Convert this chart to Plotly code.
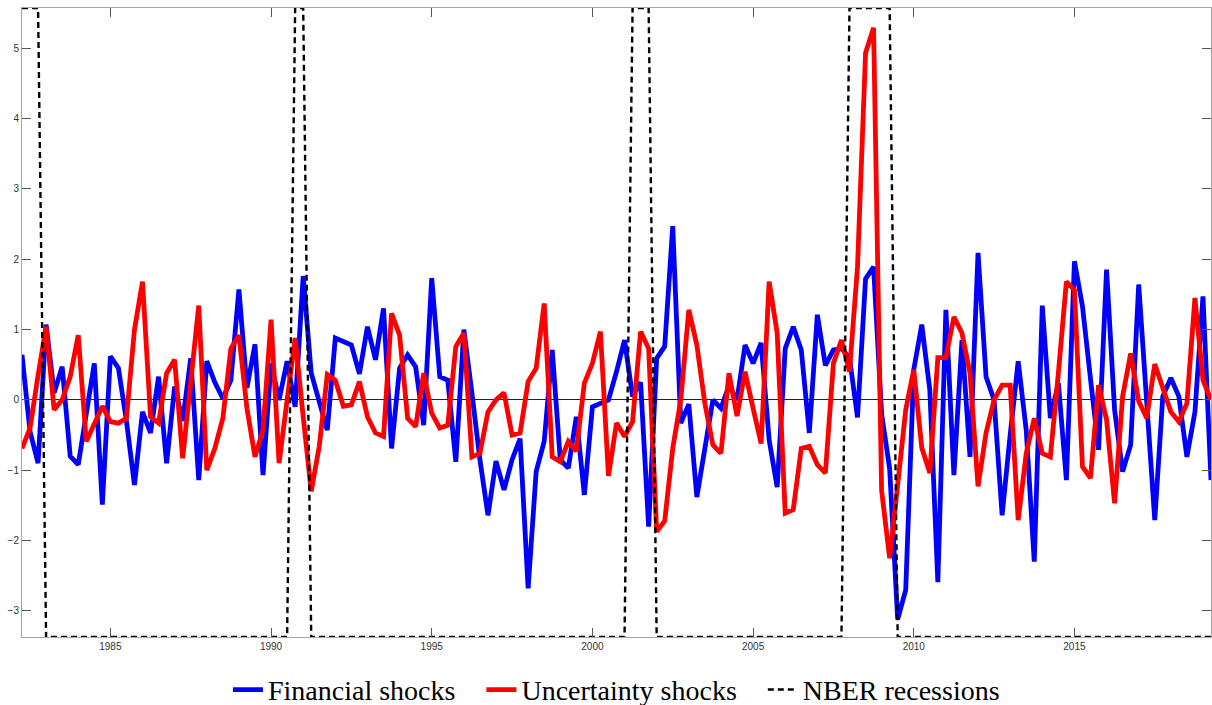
import plotly.graph_objects as go

# Quarterly sample: 1982Q2 .. 2019Q2 (decimal years, quarter start)
START_YEAR = 1982.25
N_QUARTERS = 149
quarters = [START_YEAR + 0.25 * i for i in range(N_QUARTERS)]

financial_shocks = [
    0.64, -0.45, -0.90, 1.07, 0.10, 0.47, -0.80, -0.92, -0.20, 0.52,
    -1.49, 0.62, 0.45, -0.30, -1.21, -0.17, -0.47, 0.33, -0.90, 0.19,
    -0.30, 0.59, -1.14, 0.55, 0.25, 0.02, 0.28, 1.57, 0.17, 0.79,
    -1.07, 0.52, 0.00, 0.55, -0.10, 1.76, 0.38, -0.02, -0.43, 0.88,
    0.83, 0.78, 0.37, 1.04, 0.57, 1.30, -0.69, 0.45, 0.64, 0.47,
    -0.36, 1.73, 0.33, 0.28, -0.88, 1.00, 0.10, -0.85, -1.64, -0.87,
    -1.28, -0.85, -0.55, -2.68, -1.02, -0.59, 0.71, -0.85, -0.97, -0.24,
    -1.35, -0.10, -0.05, 0.00, 0.40, 0.85, 0.05, 0.25, -1.80, 0.59,
    0.76, 2.47, -0.33, -0.06, -1.38, -0.66, 0.00, -0.12, 0.20, 0.00,
    0.78, 0.52, 0.81, -0.57, -1.24, 0.73, 1.04, 0.71, -0.47, 1.21,
    0.49, 0.71, 0.73, 0.60, -0.25, 1.72, 1.89, -0.20, -0.98, -3.12,
    -2.70, 0.43, 1.07, 0.14, -2.59, 1.28, -1.07, 0.85, -0.81, 2.09,
    0.33, 0.00, -1.64, -0.50, 0.55, -0.43, -2.30, 1.34, -0.26, 0.24,
    -1.14, 1.97, 1.33, 0.30, -0.71, 1.85, -0.14, -1.02, -0.64, 1.64,
    0.00, -1.71, 0.05, 0.31, 0.05, -0.81, -0.17, 1.47, -1.14,
]

uncertainty_shocks = [
    -0.69, -0.40, 0.35, 1.04, -0.14, 0.00, 0.33, 0.92, -0.59, -0.32,
    -0.09, -0.31, -0.33, -0.26, 1.00, 1.68, -0.24, -0.33, 0.38, 0.57,
    -0.83, 0.25, 1.34, -1.00, -0.69, -0.26, 0.73, 0.92, -0.12, -0.81,
    -0.43, 1.14, -0.90, 0.00, 0.88, -0.24, -1.30, -0.66, 0.36, 0.28,
    -0.09, -0.07, 0.26, -0.24, -0.47, -0.52, 1.23, 0.92, -0.26, -0.38,
    0.38, -0.19, -0.40, -0.36, 0.76, 0.95, -0.81, -0.76, -0.17, 0.00,
    0.10, -0.50, -0.47, 0.26, 0.45, 1.37, -0.81, -0.88, -0.59, -0.73,
    0.24, 0.52, 0.97, -1.08, -0.33, -0.52, -0.31, 0.97, 0.73, -1.87,
    -1.72, -0.69, 0.00, 1.28, 0.78, -0.05, -0.64, -0.76, 0.38, -0.23,
    0.40, -0.12, -0.62, 1.68, 0.95, -1.61, -1.56, -0.69, -0.66, -0.92,
    -1.04, 0.52, 0.85, 0.40, 1.89, 4.93, 5.29, -1.29, -2.25, -1.21,
    -0.14, 0.43, -0.68, -1.04, 0.60, 0.60, 1.18, 0.95, 0.38, -1.23,
    -0.47, 0.00, 0.21, 0.21, -1.71, -0.76, -0.26, -0.76, -0.81, 0.38,
    1.68, 1.56, -0.95, -1.11, 0.21, -0.28, -1.47, 0.05, 0.66, -0.02,
    -0.26, 0.51, 0.17, -0.17, -0.31, -0.05, 1.45, 0.28, 0.00,
]

# NBER recession quarters inside the sample (first, last)
nber_recessions = [(1982.25, 1982.75), (1990.75, 1991.0),
                   (2001.25, 2001.75), (2008.0, 2009.25)]

Y_LO, Y_HI = -3.37, 5.57
x_ticks = [1985, 1990, 1995, 2000, 2005, 2010, 2015]
y_ticks = [-3, -2, -1, 0, 1, 2, 3, 4, 5]

# recession indicator spans the whole vertical range
in_recession = [any(a - 1e-9 <= q <= b + 1e-9 for a, b in nber_recessions) for q in quarters]
nber_line = [Y_HI if r else Y_LO for r in in_recession]

# a little trailing room after each legend entry
PAD = "\u00a0" * 3

fig = go.Figure()
fig.add_trace(go.Scatter(x=quarters, y=financial_shocks, mode="lines",
                         name="Financial shocks" + PAD,
                         line=dict(color="#0000ff", width=4.8)))
fig.add_trace(go.Scatter(x=quarters, y=uncertainty_shocks, mode="lines",
                         name="Uncertainty shocks" + PAD,
                         line=dict(color="#ff0000", width=4.8)))
fig.add_trace(go.Scatter(x=quarters, y=nber_line, mode="lines",
                         name="NBER recessions", cliponaxis=False,
                         line=dict(color="#000000", width=2.4, dash="6px,4px")))

axis_common = dict(showline=True, mirror="allticks", linecolor="#a6a6a6", linewidth=1,
                   ticks="inside", ticklen=9, tickcolor="#555555", tickwidth=1,
                   showgrid=False,
                   tickfont=dict(family="Liberation Sans, Arial, sans-serif", size=10, color="#333333"))

fig.update_xaxes(range=[quarters[0], quarters[-1]], tickvals=x_ticks,
                 zeroline=False, **axis_common)
fig.update_yaxes(range=[Y_LO, Y_HI], tickvals=y_ticks,
                 zeroline=True, zerolinecolor="#222222", zerolinewidth=1,
                 **axis_common)

fig.update_layout(
    width=1212, height=705,
    margin=dict(l=22, r=1, t=8, b=68, autoexpand=False),
    paper_bgcolor="white", plot_bgcolor="white",
    showlegend=True,
    legend=dict(orientation="h", x=0.5, xanchor="center", y=-0.084, yanchor="middle",
                itemwidth=30, bgcolor="rgba(0,0,0,0)",
                font=dict(family="Liberation Serif, Times New Roman, serif", size=28, color="#000000")),
)

fig.write_html("out.html")
